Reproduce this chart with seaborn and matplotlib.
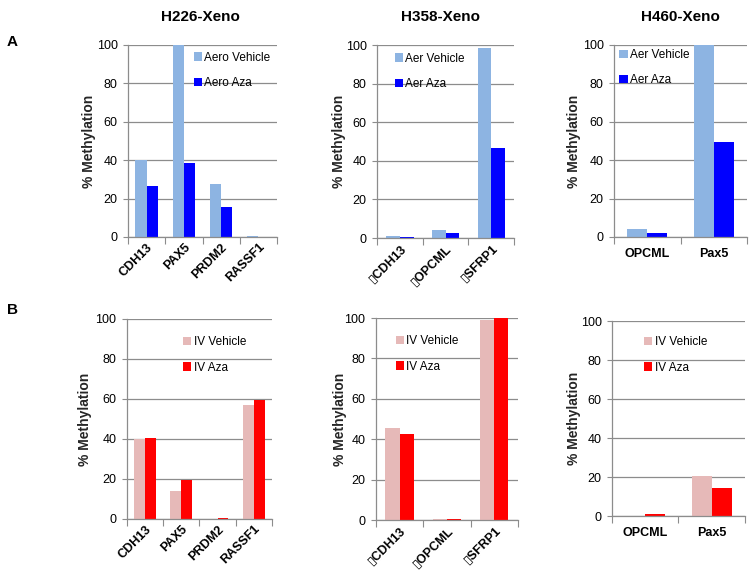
import matplotlib

matplotlib.use("Agg")

import matplotlib.pyplot as plt
import pandas
import seaborn as sns
from matplotlib.patches import Patch
from pandas import DataFrame

FIGURE_PATH: str = "out.png"

# Genes per cell line (the H358 labels carry a stray glyph in the source figure)
GENES_H226: list[str] = ["CDH13", "PAX5", "PRDM2", "RASSF1"]
GENES_H358: list[str] = ["\u25afCDH13", "\u25afOPCML", "\u25afSFRP1"]
GENES_H460: list[str] = ["OPCML", "Pax5"]

# Panel A: aerosol treatment
AERO_VEHICLE_H226: list[float] = [40, 100, 27.5, 0.5]
AERO_AZA_H226: list[float] = [26.5, 38.5, 15.5, 0]
AER_VEHICLE_H358: list[float] = [1, 4, 98.5]
AER_AZA_H358: list[float] = [0.3, 2.5, 46.5]
AER_VEHICLE_H460: list[float] = [4, 100]
AER_AZA_H460: list[float] = [2, 49.5]

# Panel B: intravenous treatment
IV_VEHICLE_H226: list[float] = [40, 14, 0, 57]
IV_AZA_H226: list[float] = [40.5, 19.5, 0.5, 59.5]
IV_VEHICLE_H358: list[float] = [45.5, 0.5, 99]
IV_AZA_H358: list[float] = [42.5, 0.5, 100]
IV_VEHICLE_H460: list[float] = [0, 20.5]
IV_AZA_H460: list[float] = [1, 14.5]

TITLES: list[str] = ["H226-Xeno", "H358-Xeno", "H460-Xeno"]

AER_COLORS: list[str] = ["#8db4e2", "#0000ff"]
IV_COLORS: list[str] = ["#e6b9b8", "#ff0000"]
GRID_GRAY: str = "#8c8c8c"
BOLD_FAMILY: list[str] = ["Liberation Sans", "DejaVu Sans"]


def make_frame(genes: list[str], vehicle: list[float], aza: list[float],
               names: list[str]) -> DataFrame:
    frames: list[DataFrame] = [
        DataFrame({"gene": genes, "value": vehicle, "group": names[0]}),
        DataFrame({"gene": genes, "value": aza, "group": names[1]}),
    ]
    return pandas.concat(objs=frames, ignore_index=True)


def draw_panel(fig, rect, genes, vehicle, aza, names, colors, rotate,
               legend_xy, ylabel_x) -> None:
    ax = fig.add_axes(rect)
    data: DataFrame = make_frame(genes, vehicle, aza, names)
    n: int = len(genes)

    sns.barplot(data=data, x="gene", y="value", hue="group", hue_order=names,
                palette=colors, width=0.6, saturation=1, linewidth=0,
                legend=False, ax=ax)

    # Y axis
    ax.set_ylim(0, 100)
    ax.set_yticks(range(0, 101, 20))
    ax.yaxis.grid(True, color=GRID_GRAY, linewidth=0.9)
    ax.xaxis.grid(False)
    ax.set_axisbelow(True)
    ax.tick_params(axis="y", length=3.5, width=0.8, color=GRID_GRAY,
                   labelsize=9, pad=4, left=True)
    ax.set_ylabel("% Methylation", fontsize=10, fontweight="bold",
                  family=BOLD_FAMILY)
    ax.yaxis.set_label_coords(ylabel_x, 0.5)

    # X axis: tick marks between categories, labels at centres
    ax.set_xlim(-0.5, n - 0.5)
    ax.set_xticks([i - 0.5 for i in range(n + 1)], minor=True)
    ax.tick_params(axis="x", which="major", length=0, pad=3)
    ax.tick_params(axis="x", which="minor", length=5, width=0.8,
                   color=GRID_GRAY, bottom=True)
    ax.set_xlabel("")
    ax.set_xticks(range(n))
    if rotate:
        ax.set_xticklabels(genes, rotation=45, ha="right",
                           rotation_mode="anchor", fontsize=9,
                           fontweight="bold")
    else:
        ax.set_xticklabels(genes, fontsize=9, fontweight="bold",
                           family=BOLD_FAMILY)
        ax.tick_params(axis="x", which="major", pad=8)

    for side in ["top", "right"]:
        ax.spines[side].set_visible(False)
    for side in ["left", "bottom"]:
        ax.spines[side].set_color(GRID_GRAY)
        ax.spines[side].set_linewidth(0.9)

    # Legend with square markers, no frame
    handles = [Patch(facecolor=c, edgecolor="none") for c in colors]
    ax.legend(handles=handles, labels=names, loc="upper left",
              bbox_to_anchor=legend_xy, frameon=False, fontsize=8.5,
              handlelength=0.7, handleheight=0.7, handletextpad=0.2,
              labelspacing=1.15, borderpad=0, borderaxespad=0)


def plot() -> None:
    fig = plt.figure(figsize=(7.5, 5.72), dpi=100)

    # Row A
    draw_panel(fig, [0.1707, 0.5857, 0.1987, 0.3357], GENES_H226,
               AERO_VEHICLE_H226, AERO_AZA_H226, ["Aero Vehicle", "Aero Aza"],
               AER_COLORS, True, (0.44, 0.965), -0.215)
    draw_panel(fig, [0.5027, 0.5839, 0.1827, 0.3374], GENES_H358,
               AER_VEHICLE_H358, AER_AZA_H358, ["Aer Vehicle", "Aer Aza"],
               AER_COLORS, True, (0.13, 0.96), -0.226)
    draw_panel(fig, [0.8187, 0.5857, 0.1773, 0.3357], GENES_H460,
               AER_VEHICLE_H460, AER_AZA_H460, ["Aer Vehicle", "Aer Aza"],
               AER_COLORS, False, (0.04, 0.98), -0.248)

    # Row B
    draw_panel(fig, [0.1693, 0.0927, 0.1933, 0.3497], GENES_H226,
               IV_VEHICLE_H226, IV_AZA_H226, ["IV Vehicle", "IV Aza"],
               IV_COLORS, True, (0.386, 0.915), -0.241)
    draw_panel(fig, [0.5013, 0.0909, 0.1893, 0.3531], GENES_H358,
               IV_VEHICLE_H358, IV_AZA_H358, ["IV Vehicle", "IV Aza"],
               IV_COLORS, True, (0.14, 0.916), -0.204)
    draw_panel(fig, [0.8160, 0.0979, 0.1773, 0.3409], GENES_H460,
               IV_VEHICLE_H460, IV_AZA_H460, ["IV Vehicle", "IV Aza"],
               IV_COLORS, False, (0.24, 0.923), -0.233)

    # Column titles and panel letters
    for x, title in zip([200, 440, 680], TITLES):
        fig.text(x / 750, 1 - 17 / 572, title, ha="center", va="center",
                 fontsize=11, fontweight="bold", family=BOLD_FAMILY)
    fig.text(12 / 750, 1 - 42 / 572, "A", ha="center", va="center",
             fontsize=11, fontweight="bold", family=BOLD_FAMILY)
    fig.text(12 / 750, 1 - 310 / 572, "B", ha="center", va="center",
             fontsize=11, fontweight="bold", family=BOLD_FAMILY)

    fig.savefig(FIGURE_PATH, dpi=100)


def main() -> None:
    sns.set_theme(style="white")
    plt.rcParams["font.family"] = ["Liberation Sans", "DejaVu Sans"]
    plt.rcParams["text.color"] = "black"
    plt.rcParams["xtick.color"] = "black"
    plt.rcParams["ytick.color"] = "black"
    plot()


if __name__ == "__main__":
    main()
